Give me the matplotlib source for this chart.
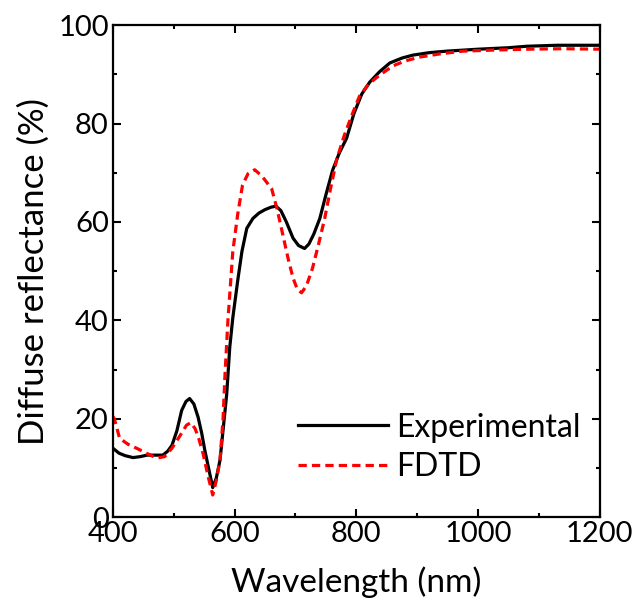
import matplotlib
matplotlib.use("Agg")
import matplotlib.pyplot as plt
from matplotlib.ticker import MultipleLocator

plt.rcParams['font.family'] = ['Lato', 'DejaVu Sans']

# Experimental spectrum (wavelength nm, reflectance %)
exp_wl = [400, 410, 420, 433, 445, 456, 470, 482, 490, 497, 505, 513, 520, 526,
          533, 540, 546, 551, 558, 564, 570, 576, 581, 587, 592, 597, 605, 612,
          620, 630, 640, 650, 660, 668, 676, 685, 696, 705, 715, 722, 730, 740,
          750, 761, 772, 784, 796, 809, 822, 838, 855, 875, 893, 920, 948, 1000,
          1050, 1080, 1130, 1200]
exp_r = [14.0, 13.0, 12.5, 12.1, 12.3, 12.6, 12.6, 12.6, 13.4, 14.6, 17.5, 21.7,
         23.5, 24.1, 23.0, 20.3, 17.0, 13.6, 9.5, 6.0, 8.0, 11.6, 17.7, 25.0,
         34.5, 40.5, 48.0, 54.0, 58.7, 60.7, 61.8, 62.5, 63.0, 63.2, 62.3, 60.0,
         56.7, 55.2, 54.6, 55.5, 57.5, 60.7, 65.5, 70.5, 74.0, 77.0, 82.0, 86.0,
         88.4, 90.5, 92.3, 93.3, 93.9, 94.4, 94.7, 95.1, 95.4, 95.7, 95.9, 95.9]

# FDTD simulation
fdtd_wl = [400, 403, 411, 425, 439, 455, 472, 485, 497, 510, 521, 528, 535,
           541, 548, 556, 564, 570, 576, 581, 584, 589, 597, 605, 613, 622,
           633, 645, 661, 670, 679, 688, 696, 703, 710, 718, 728, 738, 748,
           758, 768, 780, 792, 805, 820, 838, 860, 880, 904, 940, 975, 1020,
           1080, 1140, 1200]
fdtd_r = [20.5, 19.7, 16.0, 14.8, 14.0, 13.0, 12.0, 12.3, 14.0, 16.5, 18.7,
          19.2, 18.0, 16.0, 13.0, 8.5, 4.5, 7.5, 11.6, 20.0, 28.5, 40.0, 54.0,
          61.5, 67.5, 69.8, 70.6, 69.3, 66.7, 62.5, 57.5, 52.5, 48.6, 46.3,
          45.6, 47.0, 50.6, 55.5, 60.7, 67.0, 72.8, 77.5, 81.5, 85.5, 88.0,
          89.8, 91.7, 92.7, 93.5, 94.2, 94.7, 94.9, 95.1, 95.2, 95.1]

fig = plt.figure(figsize=(6.38, 6.12), dpi=100)
ax = fig.add_axes([0.177, 0.155, 0.763, 0.804])

ax.plot(exp_wl, exp_r, color='black', lw=2.3, label='Experimental')
ax.plot(fdtd_wl, fdtd_r, color='red', lw=2.3, ls=(0, (2.6, 1.6)), label='FDTD')

ax.set_xlim(400, 1200)
ax.set_ylim(0, 100)
ax.xaxis.set_major_locator(MultipleLocator(200))
ax.xaxis.set_minor_locator(MultipleLocator(100))
ax.yaxis.set_major_locator(MultipleLocator(20))
ax.yaxis.set_minor_locator(MultipleLocator(10))
ax.tick_params(which='both', direction='in', top=True, right=True,
               labeltop=False, labelright=False, width=1.5, labelsize=21)
ax.tick_params(which='major', length=6, pad=3)
ax.tick_params(which='minor', length=3)
for s in ax.spines.values():
    s.set_linewidth(1.6)

ax.set_xlabel('Wavelength (nm)', fontsize=24, labelpad=14)
ax.set_ylabel('Diffuse reflectance (%)', fontsize=25, labelpad=6)

ax.legend(loc='lower right', bbox_to_anchor=(0.986, 0.045), borderaxespad=0,
          frameon=False, fontsize=23, handlelength=2.8, handletextpad=0.25,
          labelspacing=0.3)

fig.savefig('out.png', dpi=100)
